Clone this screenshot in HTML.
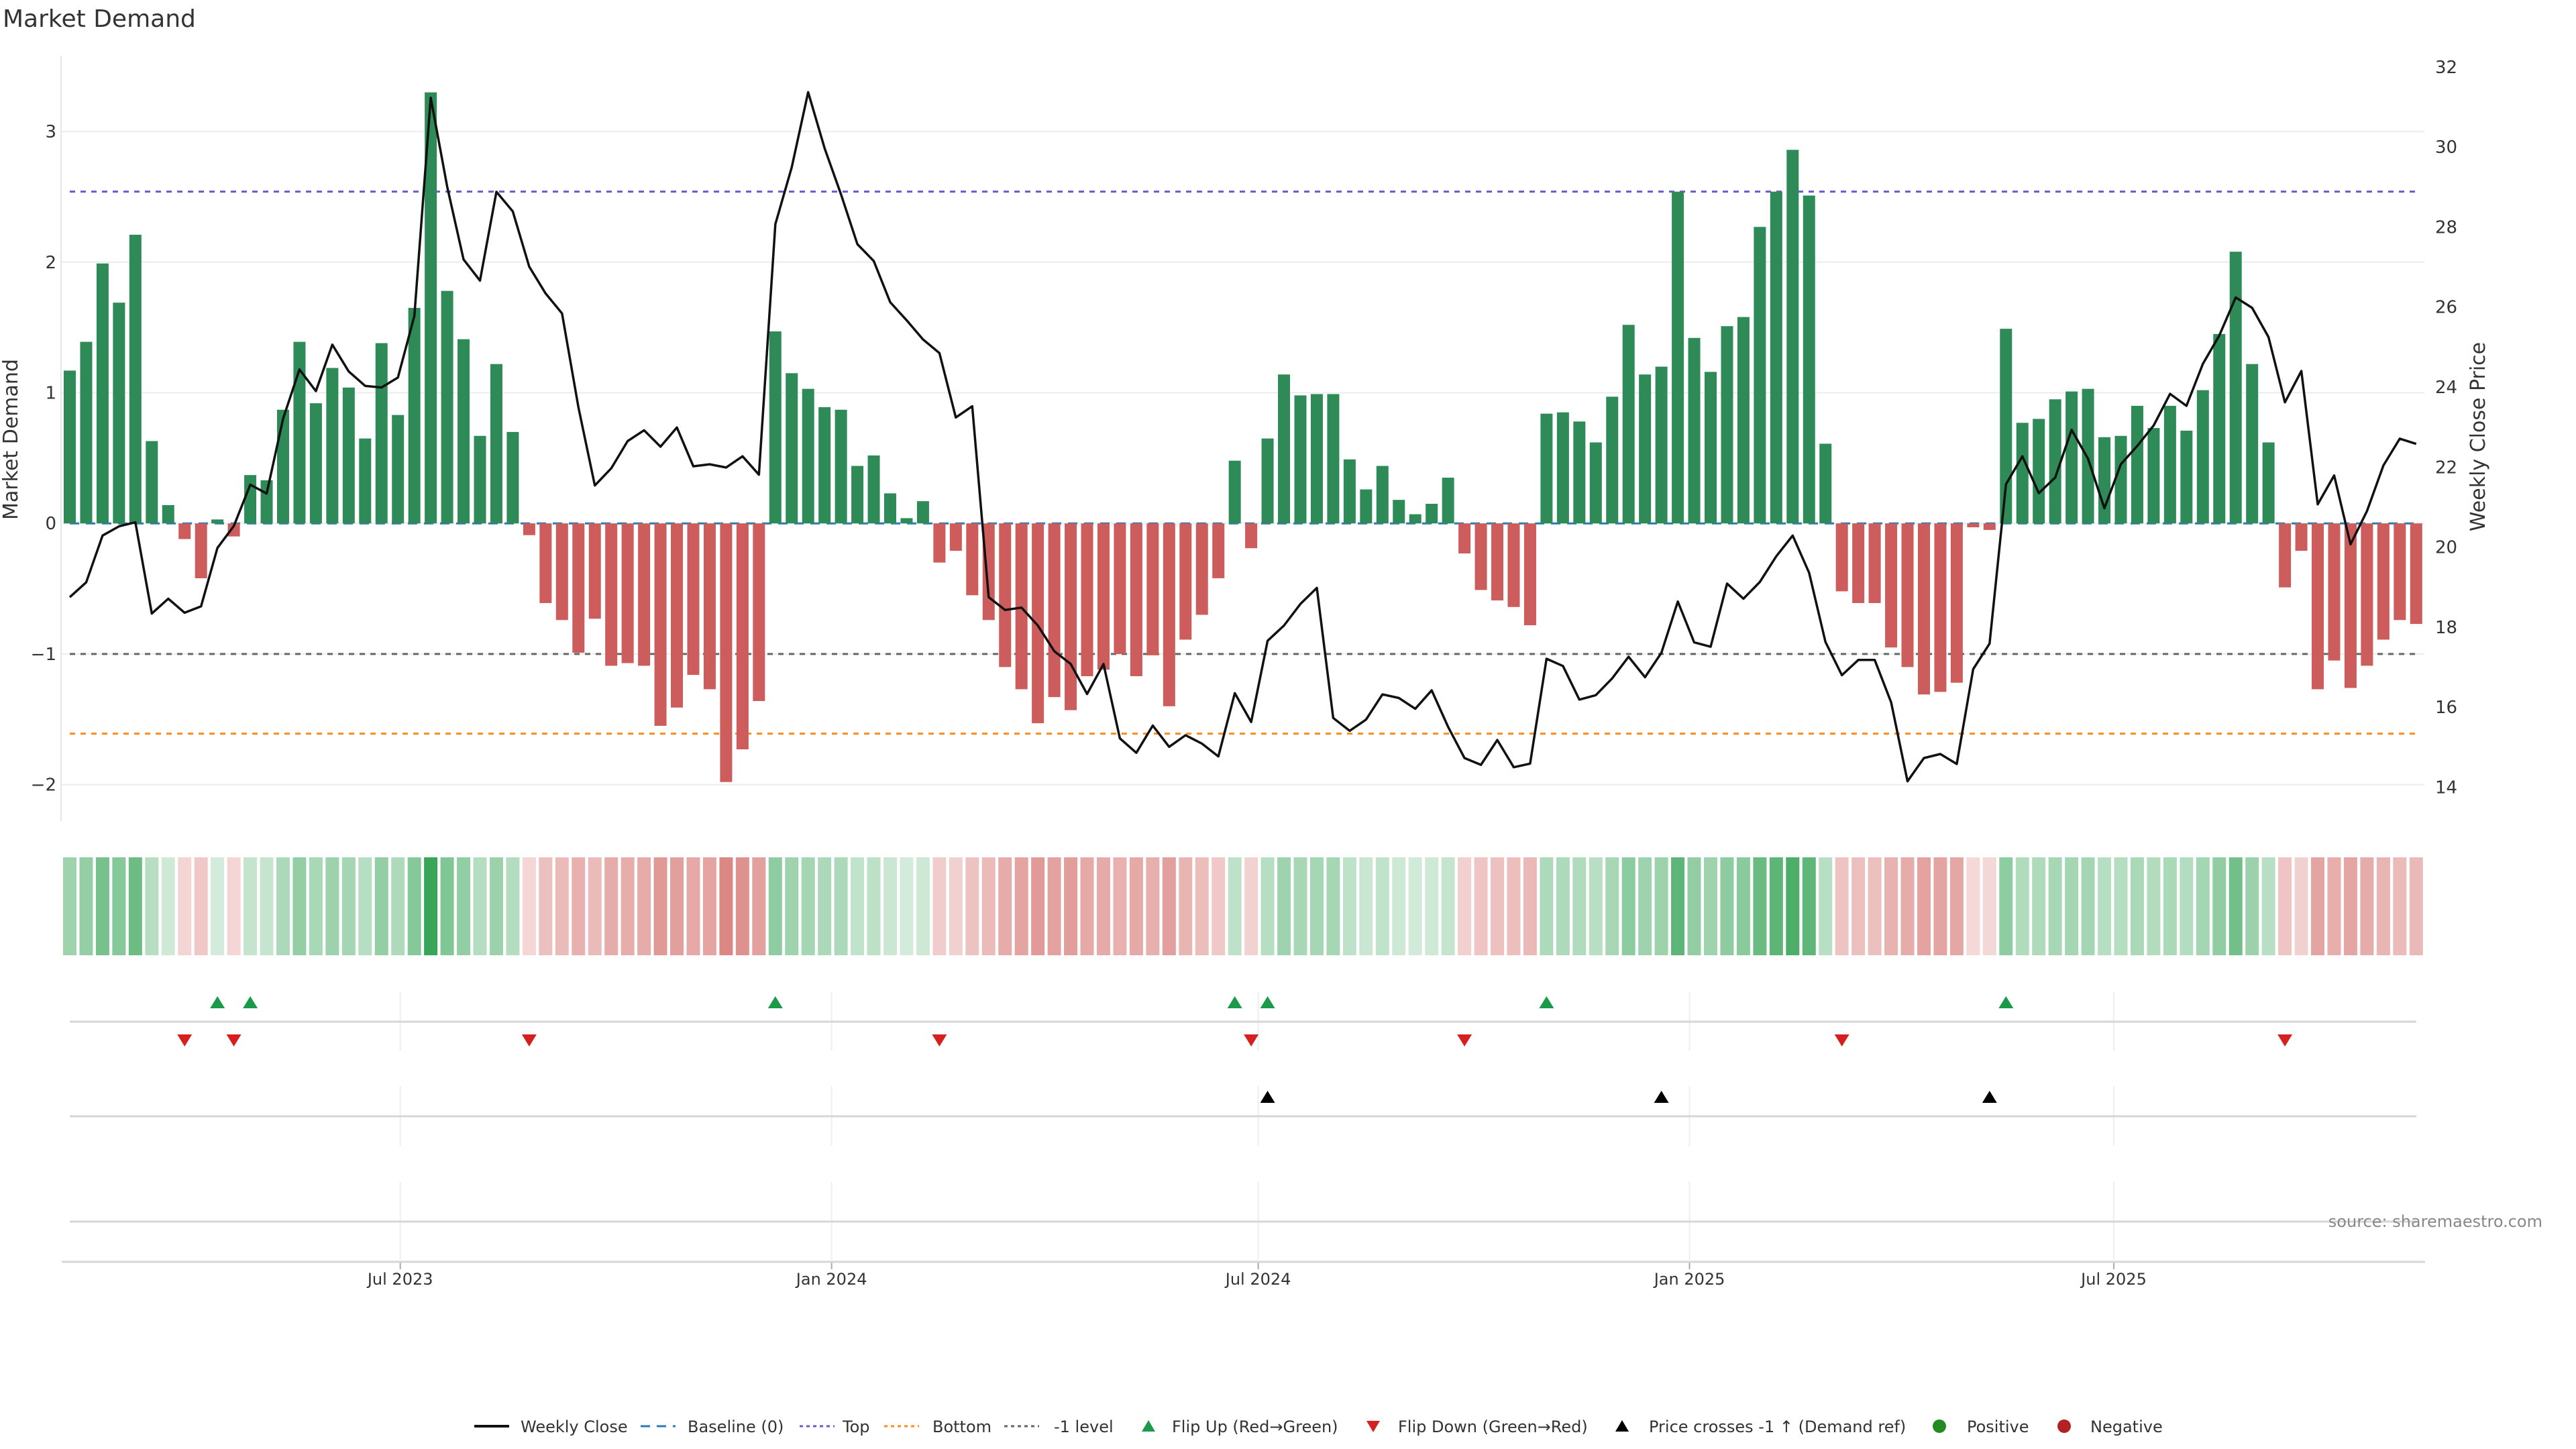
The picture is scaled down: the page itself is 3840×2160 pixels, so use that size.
<!DOCTYPE html>
<html><head><meta charset="utf-8"><title>Market Demand</title>
<style>
html,body{margin:0;padding:0;background:#fff;}
svg{display:block;font-family:"DejaVu Sans","Liberation Sans",sans-serif;}
</style></head>
<body>
<svg id="chart" width="3840" height="2160" viewBox="0 0 3840 2160" xmlns="http://www.w3.org/2000/svg">
<text x="4" y="40" font-size="36" fill="#333">Market Demand</text>
<g id="grid"></g><g id="refs"></g><g id="bars"></g><g id="price"></g><g id="axes"></g>
<g id="heat"></g><g id="panels"></g><g id="legend"></g>
</svg>
<script>
const demand = [1.17,1.39,1.99,1.69,2.21,0.63,0.14,-0.12,-0.42,0.03,-0.10,0.37,0.33,0.87,1.39,0.92,1.19,1.04,0.65,1.38,0.83,1.65,3.30,1.78,1.41,0.67,1.22,0.70,-0.09,-0.61,-0.74,-0.99,-0.73,-1.09,-1.07,-1.09,-1.55,-1.41,-1.16,-1.27,-1.98,-1.73,-1.36,1.47,1.15,1.03,0.89,0.87,0.44,0.52,0.23,0.04,0.17,-0.30,-0.21,-0.55,-0.74,-1.10,-1.27,-1.53,-1.33,-1.43,-1.17,-1.12,-1.00,-1.17,-1.01,-1.40,-0.89,-0.70,-0.42,0.48,-0.19,0.65,1.14,0.98,0.99,0.99,0.49,0.26,0.44,0.18,0.07,0.15,0.35,-0.23,-0.51,-0.59,-0.64,-0.78,0.84,0.85,0.78,0.62,0.97,1.52,1.14,1.20,2.54,1.42,1.16,1.51,1.58,2.27,2.54,2.86,2.51,0.61,-0.52,-0.61,-0.61,-0.95,-1.10,-1.31,-1.29,-1.22,-0.03,-0.05,1.49,0.77,0.80,0.95,1.01,1.03,0.66,0.67,0.90,0.73,0.90,0.71,1.02,1.45,2.08,1.22,0.62,-0.49,-0.21,-1.27,-1.05,-1.26,-1.09,-0.89,-0.74,-0.77];
const price = [18.75,19.12,20.29,20.52,20.62,18.34,18.71,18.36,18.52,19.98,20.53,21.56,21.34,23.21,24.44,23.90,25.06,24.39,24.03,23.99,24.24,25.78,31.23,29.01,27.19,26.66,28.88,28.39,27.01,26.34,25.84,23.49,21.54,21.97,22.65,22.92,22.51,22.99,22.02,22.07,21.99,22.27,21.81,28.07,29.49,31.37,29.97,28.82,27.57,27.15,26.12,25.67,25.19,24.85,23.24,23.52,18.75,18.43,18.49,18.04,17.40,17.08,16.33,17.08,15.22,14.86,15.54,15.01,15.30,15.09,14.77,16.35,15.63,17.66,18.04,18.58,18.98,15.73,15.41,15.69,16.32,16.23,15.96,16.42,15.51,14.73,14.56,15.18,14.50,14.59,17.21,17.03,16.19,16.30,16.72,17.26,16.75,17.36,18.64,17.62,17.51,19.09,18.71,19.13,19.77,20.29,19.36,17.63,16.80,17.18,17.18,16.12,14.15,14.73,14.83,14.58,16.95,17.59,21.57,22.27,21.35,21.74,22.93,22.21,20.97,22.07,22.53,23.04,23.83,23.53,24.58,25.29,26.24,25.98,25.25,23.62,24.40,21.07,21.79,20.07,20.90,22.04,22.71,22.58];
const leftTicks = [3,2,1,0,-1,-2];
const leftTickLabels = ["3","2","1","0","\u22121","\u22122"];
const rightTicks = [32,30,28,26,24,22,20,18,16,14];
const dateTicks = ["2023-07-01","2024-01-01","2024-07-01","2025-01-01","2025-07-01"];
const dateTickLabels = ["Jul 2023","Jan 2024","Jul 2024","Jan 2025","Jul 2025"];
const refLevels = [2.54,0,-1,-1.61];
const firstWeek = "2023-02-10";

const NS="http://www.w3.org/2000/svg";
function mk(tag,attrs,parent){const e=document.createElementNS(NS,tag);for(const k in attrs)e.setAttribute(k,attrs[k]);parent.appendChild(e);return e;}
const $=id=>document.getElementById(id);
const X0=104, DX=24.46;
const xi=i=>X0+i*DX;
const DAY=DX/7;
const xd=s=>X0+(Date.parse(s)-Date.parse(firstWeek))/86400000*DAY;
const yL=v=>780.2-v*194.7;
const yR=p=>99.8+(32-p)*59.65;
const PL=91, PR=3614;

const grid=$("grid");
leftTicks.forEach((t,k)=>{
  const l=mk("line",{x1:PL,x2:PR,y1:yL(t),y2:yL(t),stroke:"#ececec","stroke-width":2},grid);
  
  
});
const sp=mk("line",{x1:PL,x2:PL,y1:83,y2:1224,stroke:"#e6e6e6","stroke-width":2},grid);



const refs=$("refs");
const refStyles=[["#6a5acd","8,8","top-line"],["#2a7ab9","14,10","baseline-zero"],["#666","8,8","minus-one-line"],["#ff8c1a","8,8","bottom-line"]];
refLevels.forEach((v,k)=>{
  const l=mk("line",{x1:104,x2:3605,y1:yL(v),y2:yL(v),stroke:refStyles[k][0],"stroke-width":3,"stroke-dasharray":refStyles[k][1]},refs);
  
  
});

const bars=$("bars");
demand.forEach((v,i)=>{
  const y=Math.min(yL(v),yL(0)), h=Math.abs(yL(v)-yL(0));
  const r=mk("rect",{x:xi(i)-9,y:y,width:18,height:Math.max(h,1),fill:v>=0?"#2e8b57":"#cd5c5c"},bars);
  
  
});

const pts=price.map((p,i)=>xi(i).toFixed(1)+","+yR(p).toFixed(1)).join(" ");
const pl=mk("polyline",{points:pts,fill:"none",stroke:"#111","stroke-width":3.5,"stroke-linejoin":"round"},$("price"));



const axes=$("axes");
leftTicks.forEach((t,k)=>{
  const tx=mk("text",{x:84,y:yL(t)+9,"font-size":26,fill:"#333","text-anchor":"end"},axes);
  tx.textContent=leftTickLabels[k];
  
  
});
rightTicks.forEach(t=>{
  const tx=mk("text",{x:3630,y:yR(t)+9,"font-size":26,fill:"#333"},axes);
  tx.textContent=String(t);
  
  
});
const yt=mk("text",{x:0,y:0,"font-size":30,fill:"#333","text-anchor":"middle",transform:"translate(26,655) rotate(-90)"},axes);
yt.textContent="Market Demand";


const yt2=mk("text",{x:0,y:0,"font-size":30,fill:"#333","text-anchor":"middle",transform:"translate(3704,651) rotate(-90)"},axes);
yt2.textContent="Weekly Close Price";



const heat=$("heat");
const mx=Math.max(...demand.map(Math.abs));
demand.forEach((v,i)=>{
  const a=0.2+0.75*Math.abs(v)/mx;
  const base=v>=0?[46,160,80]:[200,70,65];
  const c=base.map(b=>Math.round(255*(1-a)+b*a));
  const r=mk("rect",{x:xi(i)-10,y:1278,width:20,height:146,fill:`rgb(${c.join(",")})`},heat);
  
  
});

const pan=$("panels");
dateTicks.forEach((d,k)=>{
  const x=xd(d);
  [[1479,1566],[1619,1708],[1762,1878]].forEach(s=>{
    const g=mk("line",{x1:x,x2:x,y1:s[0],y2:s[1],stroke:"#eceff1","stroke-width":2},pan);
    
    
  });
  const t=mk("line",{x1:x,x2:x,y1:1881,y2:1892,stroke:"#aaa","stroke-width":2},pan);
  
  
  const tx=mk("text",{x:x,y:1915,"font-size":24,fill:"#333","text-anchor":"middle"},pan);
  tx.textContent=dateTickLabels[k];
  
  
});
[1523,1664,1821].forEach(y=>{
  const l=mk("line",{x1:104,x2:3602,y1:y,y2:y,stroke:"#d6d6d6","stroke-width":3},pan);
  
  
});
const ax=mk("line",{x1:92,x2:3615,y1:1881,y2:1881,stroke:"#d6d6d6","stroke-width":3},pan);


function tri(x,y,up,col,name){
  const p=up?`${x-11},${y+9} ${x+11},${y+9} ${x},${y-9}`:`${x-11},${y-9} ${x+11},${y-9} ${x},${y+9}`;
  const t=mk("polygon",{points:p,fill:col},pan);
  
  
}
const crossLevel=32-(yL(-1)-99.8)/59.65;
for(let i=1;i<demand.length;i++){
  if(demand[i-1]<0&&demand[i]>=0) tri(xi(i),1494,true,"#1a9a4a","flip-up-marker");
  if(demand[i-1]>=0&&demand[i]<0) tri(xi(i),1551,false,"#d62020","flip-down-marker");
  if(price[i-1]<crossLevel&&price[i]>=crossLevel) tri(xi(i),1635,true,"#000","price-cross-marker");
}
const src=mk("text",{x:3790,y:1829,"font-size":24,fill:"#888","text-anchor":"end"},pan);
src.textContent="source: sharemaestro.com";



const lg=$("legend");const LY=2126;
function ltext(x,s){const t=mk("text",{x:x,y:LY+9,"font-size":24,fill:"#333"},lg);t.textContent=s;}
function lline(x1,col,dash,w){const l=mk("line",{x1:x1,x2:x1+52,y1:LY,y2:LY,stroke:col,"stroke-width":w,"stroke-dasharray":dash},lg);}
lline(707,"#111","none",4);ltext(776,"Weekly Close");
lline(955,"#2a7ab9","14,10",3);ltext(1025,"Baseline (0)");
lline(1192,"#6a5acd","5,5",3);ltext(1256,"Top");
lline(1318,"#ff8c1a","5,5",3);ltext(1390,"Bottom");
lline(1497,"#666","5,5",3);ltext(1571,"-1 level");
function lmark(x,up,col){const p=up?`${x-10},${LY+8} ${x+10},${LY+8} ${x},${LY-9}`:`${x-10},${LY-8} ${x+10},${LY-8} ${x},${LY+9}`;const t=mk("polygon",{points:p,fill:col},lg);}
lmark(1712,true,"#1a9a4a");ltext(1747,"Flip Up (Red\u2192Green)");
lmark(2047,false,"#d62020");ltext(2084,"Flip Down (Green\u2192Red)");
lmark(2418,true,"#000");ltext(2458,"Price crosses -1 \u2191 (Demand ref)");
const d1=mk("circle",{cx:2891,cy:LY,r:10,fill:"#228b22"},lg);
ltext(2932,"Positive");
const d2=mk("circle",{cx:3077,cy:LY,r:10,fill:"#b22222"},lg);
ltext(3116,"Negative");
</script>
</body></html>
